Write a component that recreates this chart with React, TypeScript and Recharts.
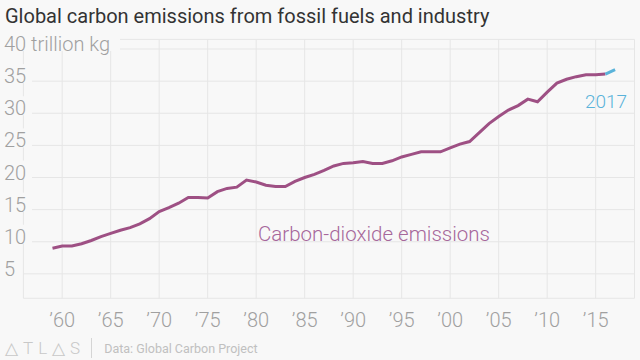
import React from "react";
import { LineChart, Line, XAxis, YAxis, CartesianGrid } from "recharts";

const years = [
  1959, 1960, 1961, 1962, 1963, 1964, 1965, 1966, 1967, 1968, 1969,
  1970, 1971, 1972, 1973, 1974, 1975, 1976, 1977, 1978, 1979,
  1980, 1981, 1982, 1983, 1984, 1985, 1986, 1987, 1988, 1989,
  1990, 1991, 1992, 1993, 1994, 1995, 1996, 1997, 1998, 1999,
  2000, 2001, 2002, 2003, 2004, 2005, 2006, 2007, 2008, 2009,
  2010, 2011, 2012, 2013, 2014, 2015, 2016, 2017,
];

// trillion kg of CO2
const emissions = [
  9.0, 9.35, 9.35, 9.7, 10.2, 10.8, 11.3, 11.8, 12.2, 12.8, 13.6,
  14.7, 15.3, 16.0, 16.9, 16.9, 16.8, 17.8, 18.3, 18.5, 19.6,
  19.3, 18.8, 18.6, 18.6, 19.4, 20.0, 20.5, 21.1, 21.8, 22.2,
  22.3, 22.5, 22.2, 22.2, 22.6, 23.2, 23.6, 24.0, 24.0, 24.0,
  24.6, 25.2, 25.6, 27.0, 28.4, 29.5, 30.5, 31.2, 32.2, 31.8,
  33.3, 34.7, 35.3, 35.7, 36.0, 36.0, 36.1, 36.8,
];

const projectionStart = 2016;

const xTicks = [1960, 1965, 1970, 1975, 1980, 1985, 1990, 1995, 2000, 2005, 2010, 2015];
const yTicks = [5, 10, 15, 20, 25, 30, 35, 40];

const BG = "#f8f8f8";
const LINE = "#9e5084";
const PROJ = "#5ab3da";
const MUTED = "#a0a0a0";
const FONT = "Roboto, 'Noto Sans', sans-serif";

const rows = years.map((year, i) => ({
  year,
  actual: year <= projectionStart ? emissions[i] : null,
  projected: year >= projectionStart ? emissions[i] : null,
}));

function YTick(props: any) {
  const { y, payload } = props;
  const label = payload.value === 40 ? "40 trillion kg" : String(payload.value);
  const w = payload.value === 40 ? 120 : label.length * 11 + 10;
  return (
    <g>
      <rect x={0} y={y - 17} width={w} height={19} fill={BG} />
      <text x={4} y={y + 2} fontSize={20} fontWeight={300} fill={MUTED} fontFamily={FONT}>
        {label}
      </text>
    </g>
  );
}

function XTick(props: any) {
  const { x, payload } = props;
  return (
    <text x={x} y={327} textAnchor="middle" fontSize={20} fontWeight={300} fill={MUTED} fontFamily={FONT}>
      {"\u2019" + String(payload.value).slice(2)}
    </text>
  );
}

export default function App() {
  return (
    <div style={{ position: "fixed", left: 0, top: 0, width: 640, height: 360, background: BG, fontFamily: FONT }}>
      <div style={{ position: "absolute", left: 5, top: 4, fontSize: 20, color: "#333", whiteSpace: "nowrap" }}>
        Global carbon emissions from fossil fuels and industry
      </div>
      <LineChart
        width={640}
        height={360}
        data={rows}
        margin={{ top: 39.4, right: 5.5, left: 13.4, bottom: 0 }}
      >
        <CartesianGrid stroke="#e6e6e6" strokeWidth={1} />
        <XAxis
          dataKey="year"
          type="number"
          domain={[1956, 2019]}
          ticks={xTicks}
          tick={<XTick />}
          axisLine={false}
          tickLine={false}
          height={61.7}
        />
        <YAxis
          type="number"
          domain={[1.2, 41.5]}
          ticks={yTicks}
          tick={<YTick />}
          axisLine={false}
          tickLine={false}
          width={10}
          interval={0}
        />
        <Line
          dataKey="actual"
          stroke={LINE}
          strokeWidth={3}
          dot={false}
          isAnimationActive={false}
          connectNulls={false}
        />
        <Line
          dataKey="projected"
          stroke={PROJ}
          strokeWidth={3}
          dot={false}
          isAnimationActive={false}
          connectNulls={false}
        />
      </LineChart>
      <div style={{ position: "absolute", left: 258, top: 222, fontSize: 20.5, color: "#a6679b", fontWeight: 300 }}>
        Carbon-dioxide emissions
      </div>
      <div style={{ position: "absolute", left: 585, top: 90, fontSize: 19, color: PROJ, fontWeight: 300 }}>
        2017
      </div>
      <div style={{ position: "absolute", left: 5, top: 338, display: "flex", alignItems: "center", color: "#c8c8c8" }}>
        <span style={{ fontSize: 17, letterSpacing: 5, fontWeight: 300 }}>{"\u25B3TL\u25B3S"}</span>
        <span style={{ width: 1, height: 20, background: "#d5d5d5", margin: "0 12px 0 6px" }} />
        <span style={{ fontSize: 12.5, color: "#c0c0c0" }}>Data: Global Carbon Project</span>
      </div>
    </div>
  );
}
